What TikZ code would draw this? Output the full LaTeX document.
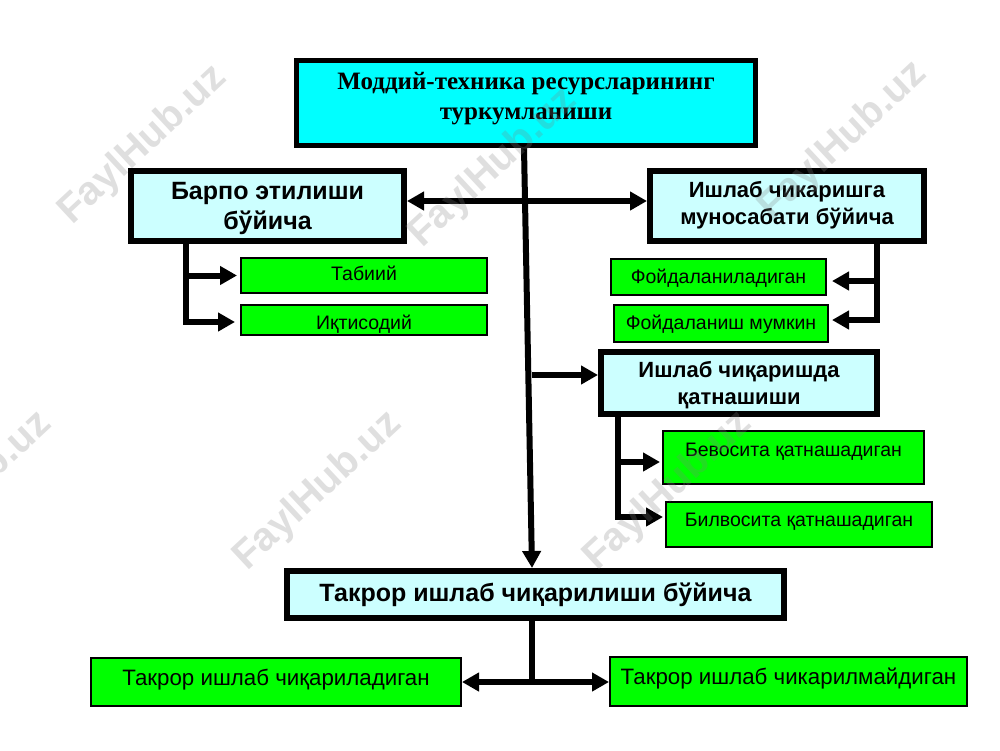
\documentclass[tikz,border=0pt]{standalone}
\usepackage{fontspec}
\setmainfont{Liberation Sans}
\newfontfamily\headfont{Liberation Serif}
\usetikzlibrary{arrows.meta}

\definecolor{headcyan}{HTML}{00FFFF}
\definecolor{catcyan}{HTML}{CCFFFF}
\definecolor{leafgreen}{HTML}{00FF00}

\begin{document}
\begin{tikzpicture}[
        x=1pt, y=-1pt,
        %Styles
        Box/.style 2 args={
            draw=black,
            inner sep=0pt,
            align=center,
            minimum width=#1pt-\pgflinewidth,
            minimum height=#2pt-\pgflinewidth,
        },
        Head/.style={line width=5pt, fill=headcyan, font=\headfont\bfseries\fontsize{25}{30}\selectfont},
        Cat/.style={line width=6pt, fill=catcyan, font=\bfseries\fontsize{25}{30}\selectfont},
        CatSmall/.style={line width=6pt, fill=catcyan, font=\bfseries\fontsize{22}{27}\selectfont},
        Leaf/.style={line width=2pt, fill=leafgreen, font=\fontsize{19.5}{23}\selectfont},
        LeafBig/.style={Leaf, font=\fontsize{22.3}{26}\selectfont},
        Link/.style={line width=6pt, -{Triangle[length=17pt,width=18pt]}},
        Both/.style={line width=6pt, {Triangle[length=17pt,width=18pt]}-{Triangle[length=17pt,width=18pt]}},
        Mark/.style={font=\bfseries\fontsize{40}{40}\selectfont, text=gray, opacity=0.25, rotate=43},
    ]

\clip (0,0) rectangle (1000,750);
\path[fill=white] (0,0) rectangle (1000,750);

%top box
\node[Box={464}{90}, Head, text depth=14pt] (top) at (526,103) {Моддий-техника ресурсларининг\\туркумланиши};

%categories
\node[Box={279}{76}, Cat, text depth=0pt] (bar) at (267.5,206) {Барпо этилиши\\бўйича};
\node[Box={280}{76}, CatSmall, text depth=7pt] (ich) at (787,206) {Ишлаб чикаришга\\муносабати бўйича};
\node[Box={282}{68}, CatSmall, text depth=0pt] (isc) at (739,383) {Ишлаб чиқаришда\\қатнашиши};
\node[Box={503}{53}, Cat] (tak) at (535.5,594.5) {Такрор ишлаб чиқарилиши бўйича};

%leaves
\node[Box={248}{37}, Leaf, text depth=4pt] (tab) at (364,275.5) {Табиий};
\node[Box={248}{32}, Leaf, text height=18pt, text depth=0pt] (iqt) at (364,320) {Иқтисодий};
\node[Box={217}{38}, Leaf, text depth=1pt] (fd1) at (718.5,277) {Фойдаланиладиган};
\node[Box={216}{39}, Leaf, text depth=3pt] (fd2) at (721,323.5) {Фойдаланиш мумкин};
\node[Box={263}{55}, Leaf, text depth=16pt] (bev) at (793.5,457.5) {Бевосита қатнашадиган};
\node[Box={268}{47}, Leaf, text depth=9pt] (bil) at (799,524.5) {Билвосита қатнашадиган};
\node[Box={372}{50}, LeafBig, text depth=9pt] (tk1) at (276,682) {Такрор ишлаб чиқариладиган};
\node[Box={359}{51}, LeafBig, text depth=11pt] (tk2) at (788.5,681.5) {Такрор ишлаб чикарилмайдиган};

%main line
\draw[Link] ([xshift=-2pt]top.south) -- ([xshift=-3.5pt]tak.north);
\draw[Both] ([yshift=5pt]bar.east) -- ([yshift=5pt]ich.west);
\coordinate (branch) at (532,375);
\draw[Link] (branch) -- (branch -| isc.west);

%branches of the categories
\draw[Link, shorten >=3pt] ([xshift=58pt]bar.south west) |- (tab.west);
\draw[Link, shorten >=5pt] ([xshift=58pt]bar.south west) |- ([yshift=-2pt]iqt.west);
\draw[Link, shorten >=5pt] ([xshift=-50pt]ich.south east) |- ([yshift=-4pt]fd1.east);
\draw[Link, shorten >=3pt] ([xshift=-50pt]ich.south east) |- ([yshift=3.5pt]fd2.east);
\draw[Link, shorten >=2pt] ([xshift=20pt]isc.south west) |- ([yshift=-4.5pt]bev.west);
\draw[Link, shorten >=2pt] ([xshift=20pt]isc.south west) |- ([yshift=7.5pt]bil.west);

%bottom
\coordinate (fork) at (tak.south |- tk1.east);
\draw[line width=6pt] ([xshift=-3.5pt]tak.south) -- ([xshift=-3.5pt]fork);
\draw[Both] (tk1.east) -- (tk2.west |- tk1.east);

%watermark
\foreach \x/\y [count=\n] in {143/145, 493/168, 843/141, -32/491, 318/491, 668/491}
  \node[Mark] (wm\n) at (\x,\y) {FaylHub.uz};

\end{tikzpicture}
\end{document}
